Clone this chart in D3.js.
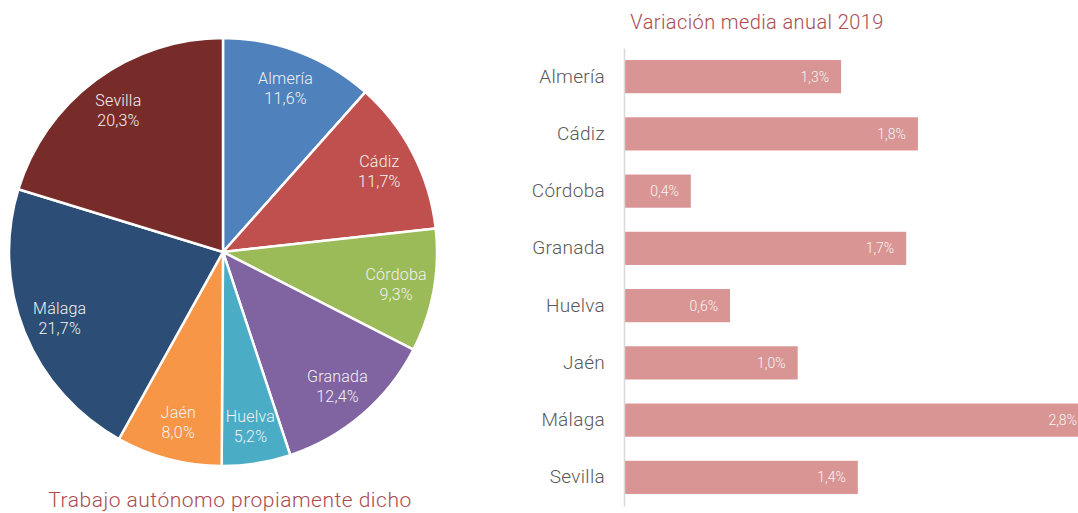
<!DOCTYPE html>
<html>
<head>
<meta charset="utf-8">
<script src="https://cdn.jsdelivr.net/npm/d3@7"></script>
<style>
  html, body { margin: 0; padding: 0; background: #fff; }
  svg { display: block; font-family: Roboto, "Liberation Sans", sans-serif; font-weight: 300; }
</style>
</head>
<body>
<div id="chart"></div>
<script>
// pie: share of self-employment per province
var provinces = ['Almería', 'Cádiz', 'Córdoba', 'Granada', 'Huelva', 'Jaén', 'Málaga', 'Sevilla'];
var shares = [11.6, 11.7, 9.3, 12.4, 5.2, 8.0, 21.7, 20.3];
var pieColors = ['#4f81bd', '#c0504d', '#9bbb59', '#8064a2', '#4bacc6', '#f79646', '#2c4d75', '#772c2a'];

// bars: average annual variation 2019
var variation = [1.30, 1.76, 0.40, 1.69, 0.635, 1.04, 2.80, 1.40];

var pieTitle = 'Trabajo autónomo propiamente dicho';
var barTitle = 'Variación media anual 2019';

var w = 1078, h = 513;
var svg = d3.select('#chart').append('svg')
  .attr('width', w)
  .attr('height', h);

var fmt = function(v) { return v.toFixed(1).replace('.', ',') + '%'; };

// ---- pie ----
var cx = 223, cy = 252, r = 214;
var pie = d3.pie().sort(null).value(function(d) { return d.v; });
var arc = d3.arc().innerRadius(0).outerRadius(r);
var labelArc = d3.arc().innerRadius(176).outerRadius(176);

var pieData = provinces.map(function(p, i) { return { name: p, v: shares[i], c: pieColors[i] }; });

var gp = svg.append('g').attr('transform', 'translate(' + cx + ',' + cy + ')');
var slices = pie(pieData);

gp.selectAll('path')
  .data(slices)
  .enter().append('path')
  .attr('d', arc)
  .attr('fill', function(d) { return d.data.c; })
  .attr('stroke', '#fff')
  .attr('stroke-width', 2.5)
  .attr('stroke-linejoin', 'round');

var lab = gp.selectAll('g.lab')
  .data(slices)
  .enter().append('g')
  .attr('class', 'lab')
  .attr('transform', function(d) { return 'translate(' + labelArc.centroid(d) + ')'; });

lab.append('text')
  .attr('text-anchor', 'middle')
  .attr('y', -4)
  .attr('fill', '#f2f2f2')
  .style('font-size', '16px')
  .style('letter-spacing', '0.2px')
  .text(function(d) { return d.data.name; });
lab.append('text')
  .attr('text-anchor', 'middle')
  .attr('y', 16)
  .attr('fill', '#f2f2f2')
  .style('font-size', '16px')
  .style('letter-spacing', '0.2px')
  .text(function(d) { return fmt(d.data.v); });

svg.append('text')
  .attr('x', 230)
  .attr('y', 507)
  .attr('text-anchor', 'middle')
  .attr('fill', '#a94b4f')
  .style('font-size', '21px')
  .style('letter-spacing', '0.5px')
  .text(pieTitle);

// ---- bars ----
var x = d3.scaleLinear().domain([0, 3]).range([624, 1125]);
var y = d3.scaleBand().domain(provinces).range([48, 506]).paddingInner(0.42).paddingOuter(0.21);

var gb = svg.append('g');
gb.selectAll('rect')
  .data(provinces)
  .enter().append('rect')
  .attr('x', x(0))
  .attr('y', function(d) { return y(d); })
  .attr('width', function(d, i) { return x(variation[i]) - x(0); })
  .attr('height', y.bandwidth())
  .attr('fill', '#d99594');

gb.selectAll('text.val')
  .data(provinces)
  .enter().append('text')
  .attr('class', 'val')
  .attr('x', function(d, i) { return Math.min(x(variation[i]) - 12, w - 1); })
  .attr('y', function(d) { return y(d) + y.bandwidth() / 2; })
  .attr('dy', '0.35em')
  .attr('text-anchor', 'end')
  .attr('fill', '#f5f5f5')
  .style('font-size', '14px')
  .text(function(d, i) { return fmt(variation[i]); });

var yAxis = d3.axisLeft(y).tickSize(0).tickPadding(19);
var ga = svg.append('g')
  .attr('transform', 'translate(' + x(0) + ',0)')
  .call(yAxis);
ga.select('.domain').attr('stroke', '#d9d9d9').attr('stroke-width', 1.5);
ga.selectAll('text')
  .attr('fill', '#595959')
  .style('font-size', '19px')
  .style('letter-spacing', '0.3px')
  .style('font-family', 'Roboto, "Liberation Sans", sans-serif')
  .style('font-weight', 300);

svg.append('text')
  .attr('x', 757)
  .attr('y', 29)
  .attr('text-anchor', 'middle')
  .attr('fill', '#a94b4f')
  .style('font-size', '20px')
  .style('letter-spacing', '0.4px')
  .text(barTitle);
</script>
</body>
</html>
